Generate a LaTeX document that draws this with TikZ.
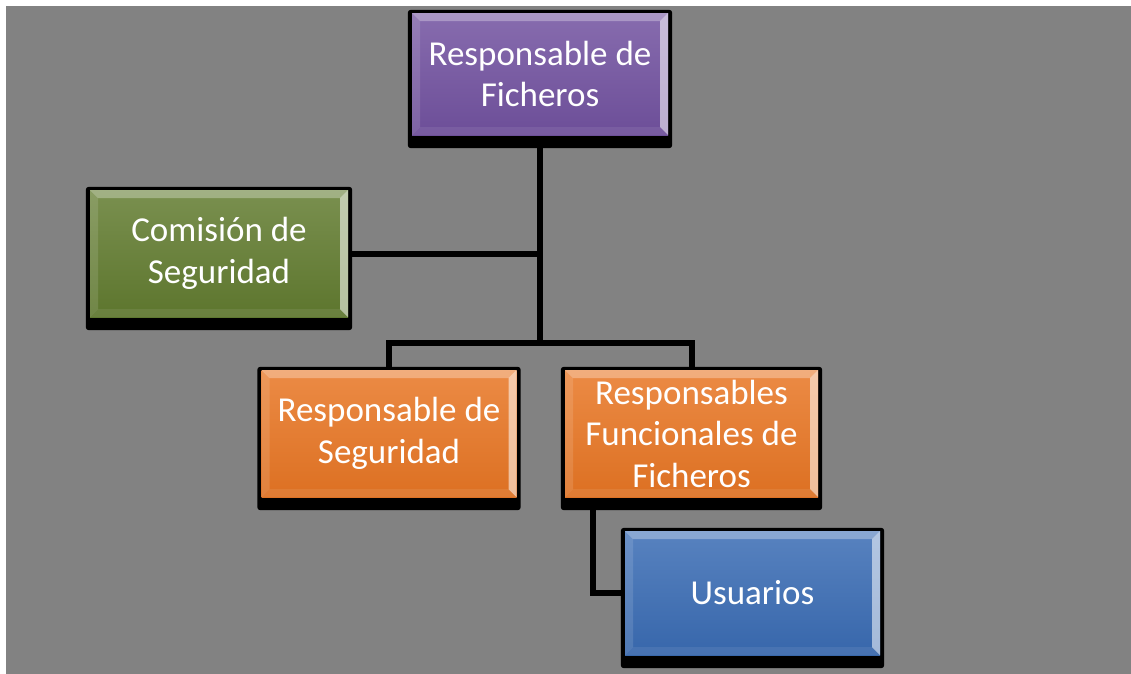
\documentclass[tikz,border=0pt]{standalone}
\usepackage{fontspec}
\setmainfont{Carlito}
\pgfdeclarelayer{back}
\pgfdeclarelayer{shadow}
\pgfsetlayers{back,shadow,main}
\definecolor{bggray}{RGB}{130,130,130}
\definecolor{cpurple}{RGB}{114,82,160}
\definecolor{cgreen}{RGB}{98,124,48}
\definecolor{corange}{RGB}{232,118,36}
\definecolor{cblue}{RGB}{58,108,180}
\tikzset{
  orgbox/.style={rectangle, inner sep=0pt, align=center, text=white,
    font=\fontsize{35}{41.5}\selectfont,
    top color=#1!85!white, bottom color=#1!95!black,
    path picture={
      \fill[white,opacity=.30] (path picture bounding box.north west) -- (path picture bounding box.north east)
        -- ([xshift=-8pt,yshift=-8pt]path picture bounding box.north east) -- ([xshift=8pt,yshift=-8pt]path picture bounding box.north west) -- cycle;
      \fill[white,opacity=.55] (path picture bounding box.north east) -- (path picture bounding box.south east)
        -- ([xshift=-8pt,yshift=8pt]path picture bounding box.south east) -- ([xshift=-8pt,yshift=-8pt]path picture bounding box.north east) -- cycle;
      \fill[white,opacity=.12] (path picture bounding box.north west) -- (path picture bounding box.south west)
        -- ([xshift=8pt,yshift=8pt]path picture bounding box.south west) -- ([xshift=8pt,yshift=-8pt]path picture bounding box.north west) -- cycle;
      \fill[white,opacity=.08] (path picture bounding box.south west) -- (path picture bounding box.south east)
        -- ([xshift=-8pt,yshift=8pt]path picture bounding box.south east) -- ([xshift=8pt,yshift=8pt]path picture bounding box.south west) -- cycle;
    }},
  conn/.style={draw=black, line width=6pt, line join=miter},
  shadowbox/.style={fill=black, rounded corners=3pt}
}
\begin{document}
\begin{tikzpicture}[x=1pt,y=-1pt]
\useasboundingbox (0,0) rectangle (1131,673);
\begin{pgfonlayer}{back}
  \fill[white] (0,0) rectangle (1131,673);
  \fill[bggray] (6,6) rectangle (1140,682);
\end{pgfonlayer}

\node[orgbox=cpurple, minimum width=256pt, minimum height=122pt] (top) at (540,74) {Responsable de\\Ficheros};
\node[orgbox=cgreen, minimum width=258pt, minimum height=127pt] (com) at (219,253.5) {Comisión de\\Seguridad};
\node[orgbox=corange, minimum width=255pt, minimum height=127pt] (rseg) at (389,433.5) {Responsable de\\Seguridad};
\node[orgbox=corange, minimum width=253pt, minimum height=127pt] (rfun) at (691.5,433.5) {Responsables\\Funcionales de\\Ficheros};
\node[orgbox=cblue, minimum width=255pt, minimum height=124pt] (usu) at (752.5,593) {Usuarios};

\coordinate (bar) at (540,343);
\coordinate (fork) at ([xshift=-98.5pt]rfun.south);

\begin{pgfonlayer}{shadow}
  \foreach \n in {top,com,rseg,rfun,usu}{
    \fill[shadowbox] ([xshift=-4pt,yshift=3pt]\n.north west) rectangle ([xshift=4pt,yshift=-13pt]\n.south east);
  }
  \draw[conn] (top.south) -- (bar);
  \draw[conn] (com.east) -- (com.east -| top.south);
  \draw[conn] (rseg.north) -- (rseg.north |- bar) -- (rfun.north |- bar) -- (rfun.north);
  \draw[conn] (fork) |- (usu.west);
\end{pgfonlayer}
\end{tikzpicture}
\end{document}
